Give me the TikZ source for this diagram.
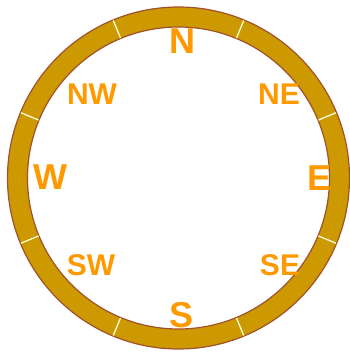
\documentclass[tikz,border=0pt]{standalone}
\usepackage{fontspec}
\setmainfont{Liberation Sans}
\usepackage{tikz}
\usetikzlibrary{calc}

\definecolor{ringgold}{HTML}{CC9900}
\definecolor{ringedge}{HTML}{A0522D}
\definecolor{letter}{HTML}{FF9900}

\begin{document}
\begin{tikzpicture}[x=1pt, y=1pt,
    ring/.style={fill=ringgold, draw=ringedge, line width=1.2pt, even odd rule},
    tick/.style={draw=white!85!yellow, line width=1.3pt},
    main/.style={text=letter, inner sep=0pt, font=\bfseries\fontsize{36}{36}\selectfont},
    side/.style={text=letter, inner sep=0pt, font=\bfseries\fontsize{30}{30}\selectfont}]
    \useasboundingbox (0,0) rectangle (350,356);

    %----------------------------------------
    % ring centre and radii
    %----------------------------------------
    \coordinate (c) at (178.5,178);
    \def\ro{171}
    \def\ri{151}

    % the golden ring
    \path[ring] (c) circle (\ro) (c) circle (\ri);

    % white marks between the sectors
    \foreach \a in {22.5,67.5,...,337.5}{
        \draw[tick] ($(c)+(\a:\ri+0.5)$) -- ($(c)+(\a:\ro-0.5)$);
    }

    %----------------------------------------
    % compass points
    %----------------------------------------
    \node[main] (north) at (182,315) {N};
    \node[main] (south) at (182,41) {S};
    \node[main] (east)  at (320,178) {E};
    \node[main] (west)  at (50,179) {W};
    \node[side] (ne) at (279,262) {NE};
    \node[side] (nw) at (92,262) {NW};
    \node[side] (se) at (280,91) {SE};
    \node[side] (sw) at (91,91) {SW};

\end{tikzpicture}
\end{document}
